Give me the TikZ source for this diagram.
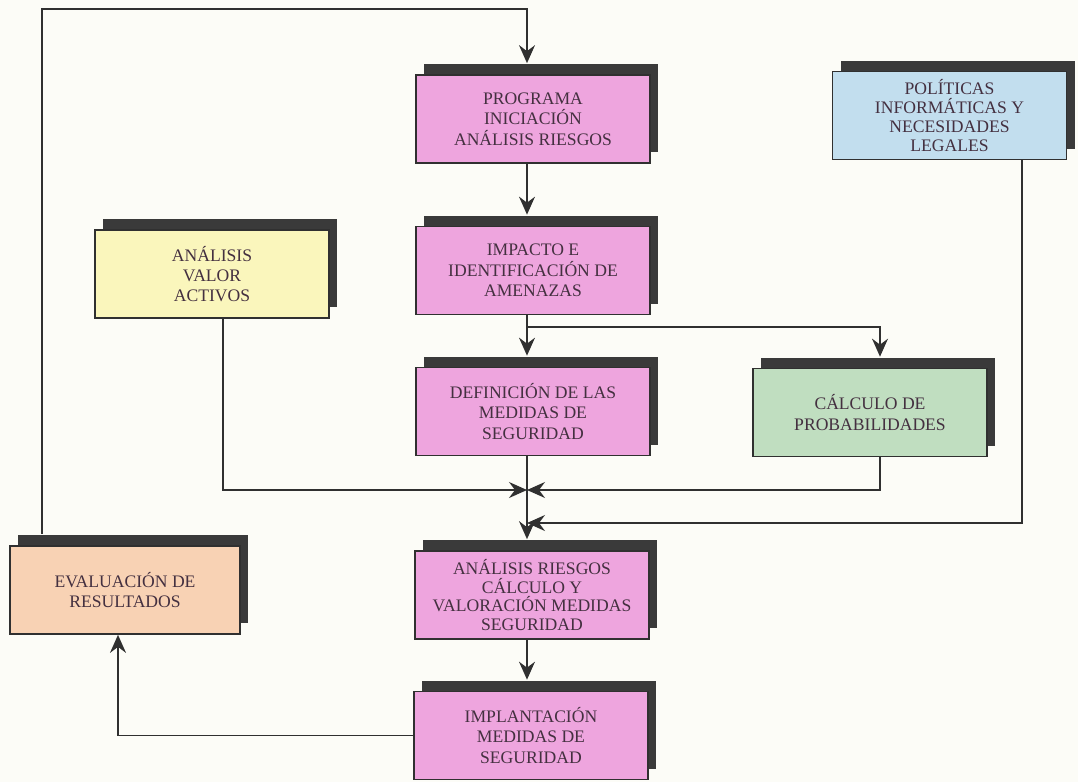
\documentclass[tikz,border=0pt]{standalone}
\usepackage{fontspec}
\setmainfont{Liberation Serif}
\usetikzlibrary{shadows,arrows.meta}

\definecolor{paper}{RGB}{252,252,247}
\definecolor{ink}{RGB}{68,48,64}
\definecolor{linec}{RGB}{48,48,48}
\definecolor{shade}{RGB}{58,58,58}
\definecolor{pinkf}{RGB}{238,165,222}
\definecolor{yellowf}{RGB}{250,246,188}
\definecolor{greenf}{RGB}{192,222,192}
\definecolor{bluef}{RGB}{194,222,238}
\definecolor{orangef}{RGB}{248,210,180}

\begin{document}
\begin{tikzpicture}[x=1pt,y=-1pt,
  box/.style={draw=linec, line width=1.7pt, minimum width=234pt,
    minimum height=88pt, align=center, text=ink, inner sep=2pt,
    font=\fontsize{17.6}{20.3}\selectfont,
    general shadow={fill=shade, shadow xshift=8pt, shadow yshift=11pt}},
  conn/.style={draw=linec, line width=1.4pt},
  arr/.style={conn, -{Stealth[length=18pt,width=16pt,inset=6pt]}},
]
% page
\fill[paper] (0,0) rectangle (1078,782);

% process boxes
\node[box, fill=pinkf] (prog) at (533,119) {PROGRAMA\\INICIACIÓN\\ANÁLISIS RIESGOS};
\node[box, fill=pinkf] (imp) at (533,270.5) {IMPACTO E\\IDENTIFICACIÓN DE\\AMENAZAS};
\node[box, fill=pinkf] (defi) at (533,411.5) {DEFINICIÓN DE LAS\\MEDIDAS DE\\SEGURIDAD};
\node[box, fill=pinkf, font=\fontsize{17.6}{18.5}\selectfont] (riesgo) at (532,595) {ANÁLISIS RIESGOS\\CÁLCULO Y\\VALORACIÓN MEDIDAS\\SEGURIDAD};
\node[box, fill=pinkf] (implant) at (531,735.5) {IMPLANTACIÓN\\MEDIDAS DE\\SEGURIDAD};
\node[box, fill=yellowf] (activos) at (212,274) {ANÁLISIS\\VALOR\\ACTIVOS};
\node[box, fill=greenf] (calc) at (870,412.5) {CÁLCULO DE\\PROBABILIDADES};
\node[box, fill=bluef, font=\fontsize{17.6}{19}\selectfont] (polit) at (949.5,115.5) {POLÍTICAS\\INFORMÁTICAS Y\\NECESIDADES\\LEGALES};
\node[box, fill=orangef, minimum width=230pt] (eval) at (125,590) {EVALUACIÓN DE\\RESULTADOS};

% routing guides
\coordinate (spine) at (527,0);
\coordinate (loopTop) at (42,9);
\coordinate (junc) at (527,490);
\coordinate (juncP) at (527,523);
\coordinate (branch) at (527,327);
\coordinate (actx) at (223,0);
\coordinate (calcx) at (880,0);
\coordinate (politx) at (1022,0);
\coordinate (retx) at (118,0);

% feedback loop
\draw[arr] ([yshift=11pt]eval.north -| loopTop) |- (loopTop -| spine)
  -- ([yshift=11pt]prog.north -| spine);

% main chain
\draw[arr] (prog.south -| spine) -- ([yshift=11pt]imp.north -| spine);
\draw[arr] (imp.south -| spine) -- ([yshift=11pt]defi.north -| spine);
\draw[arr] (branch) -| ([yshift=11pt]calc.north -| calcx);
\draw[arr] (defi.south -| spine) -- ([yshift=11pt]riesgo.north -| spine);
\draw[arr] (riesgo.south -| spine) -- ([yshift=11pt]implant.north -| spine);

% inputs to the risk analysis
\draw[arr] (activos.south -| actx) |- (junc);
\draw[arr] (calc.south -| calcx) |- (junc);
\draw[arr] (polit.south -| politx) |- (juncP);

% return to evaluation
\draw[arr] (implant.west) -| (eval.south -| retx);
\end{tikzpicture}
\end{document}
